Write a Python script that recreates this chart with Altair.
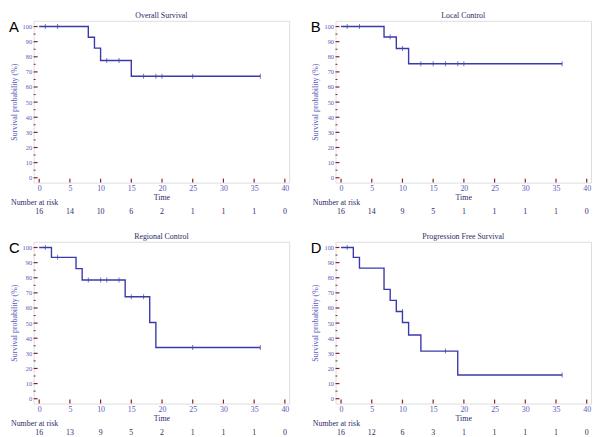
import altair as alt
import pandas as pd

# ---- data ----
x_ticks = [0, 5, 10, 15, 20, 25, 30, 35, 40]

a_title = "Overall Survival"
a_step_t = [0, 8, 9, 10, 15, 36]
a_step_s = [100, 92.9, 85.7, 77.5, 67.1, 67.1]
a_cens_t = [1, 3, 11, 13, 17, 19, 20, 25, 36]
a_cens_s = [100, 100, 77.5, 77.5, 67.1, 67.1, 67.1, 67.1, 67.1]
a_risk = [16, 14, 10, 6, 2, 1, 1, 1, 0]

b_title = "Local Control"
b_step_t = [0, 7, 9, 11, 36]
b_step_s = [100, 93.1, 85.5, 75.4, 75.4]
b_cens_t = [1, 3, 8, 10, 13, 15, 17, 19, 20, 36]
b_cens_s = [100, 100, 93.1, 85.5, 75.4, 75.4, 75.4, 75.4, 75.4, 75.4]
b_risk = [16, 14, 9, 5, 1, 1, 1, 1, 0]

c_title = "Regional Control"
c_step_t = [0, 2, 6, 7, 14, 18, 19, 36]
c_step_s = [100, 93.5, 86.0, 78.5, 67.4, 50.4, 33.9, 33.9]
c_cens_t = [1, 3, 8, 10, 11, 13, 15, 17, 25, 36]
c_cens_s = [100, 93.5, 78.5, 78.5, 78.5, 78.5, 67.4, 67.4, 33.9, 33.9]
c_risk = [16, 13, 9, 5, 2, 1, 1, 1, 0]

d_title = "Progression Free Survival"
d_step_t = [0, 2, 3, 7, 8, 9, 10, 11, 13, 19, 36]
d_step_s = [100, 93.5, 86.4, 72.3, 65.0, 57.7, 50.4, 42.1, 31.5, 15.7, 15.7]
d_cens_t = [1, 10, 17, 36]
d_cens_s = [100, 57.7, 31.5, 15.7]
d_risk = [16, 12, 6, 3, 1, 1, 1, 1, 0]

y_major = list(range(0, 101, 10))
y_minor = list(range(5, 100, 10))

# ---- style ----
W, H = 259, 164
BLUE = "#3a3aaa"
LBLUE = "#5a5ab8"
MAROON = "#8b1e1e"
NAVY = "#2a2a66"
FONT = "Liberation Serif"

xs = alt.Scale(domain=[-0.9, 40.7], nice=False, zero=False)
ys = alt.Scale(domain=[-3.2, 103.8], nice=False, zero=False)

xaxis = alt.Axis(values=x_ticks, title="Time", ticks=False, domain=False, grid=False,
                 labelColor=LBLUE, labelFont=FONT, labelFontSize=8, labelPadding=2,
                 labelOverlap=False, labelFlush=False, titleFont=FONT, titleFontSize=8,
                 titleFontWeight="normal", titleColor=NAVY, titlePadding=1)
yaxis = alt.Axis(values=y_major, title="Survival probability (%)", ticks=False, domain=False, grid=False,
                 labelColor=LBLUE, labelFont=FONT, labelFontSize=6.5, labelPadding=2,
                 labelOverlap=False, labelFlush=False, titleFont=FONT, titleFontSize=8,
                 titleFontWeight="normal", titleColor=LBLUE, titlePadding=4)


def X(f):
    return alt.X(f, scale=xs, axis=xaxis)


def Y(f):
    return alt.Y(f, scale=ys, axis=yaxis)


def panel(title, letter, st, ss, ct, cs, risk):
    steps = pd.DataFrame({"t": st, "s": ss})
    cens = pd.DataFrame({"t": ct, "s": cs})
    risk_df = pd.DataFrame({"t": x_ticks, "n": risk})
    ymaj = pd.DataFrame({"y": y_major})
    ymin = pd.DataFrame({"y": y_minor})
    xt = pd.DataFrame({"t": x_ticks})

    line = alt.Chart(steps).mark_line(interpolate="step-after", color=BLUE, strokeWidth=1.4).encode(
        x=X("t:Q"), y=Y("s:Q"))
    ticks_c = alt.Chart(cens).mark_tick(orient="vertical", color=BLUE, size=5, thickness=1).encode(
        x=X("t:Q"), y=Y("s:Q"))
    yt_major = alt.Chart(ymaj).mark_rule(color=MAROON, strokeWidth=1.2).encode(
        y=Y("y:Q"), x=alt.value(0), x2=alt.value(4))
    yt_minor = alt.Chart(ymin).mark_rule(color=MAROON, strokeWidth=1).encode(
        y=Y("y:Q"), x=alt.value(0), x2=alt.value(2))
    xt_major = alt.Chart(xt).mark_rule(color=MAROON, strokeWidth=1.2).encode(
        x=X("t:Q"), y=alt.value(H), y2=alt.value(H - 4))
    nums = alt.Chart(risk_df).mark_text(font=FONT, fontSize=8, color=NAVY).encode(
        x=X("t:Q"), y=alt.value(H + 30), text="n:Q")
    nar = alt.Chart(pd.DataFrame({"l": ["Number at risk"]})).mark_text(
        font=FONT, fontSize=8, color=NAVY, align="left").encode(
        x=alt.value(-23), y=alt.value(H + 21), text="l:N")
    let = alt.Chart(pd.DataFrame({"l": [letter]})).mark_text(
        font="Liberation Sans", fontSize=15, color="black", align="left", baseline="middle").encode(
        x=alt.value(-25), y=alt.value(6), text="l:N")
    ttl = alt.Chart(pd.DataFrame({"l": [title]})).mark_text(
        font=FONT, fontSize=8, color=NAVY, align="center", baseline="middle").encode(
        x=alt.value(W / 2), y=alt.value(-5), text="l:N")

    return alt.layer(yt_minor, yt_major, xt_major, line, ticks_c, nums, nar, let, ttl).properties(
        width=W, height=H)


pa = panel(a_title, "A", a_step_t, a_step_s, a_cens_t, a_cens_s, a_risk)
pb = panel(b_title, "B", b_step_t, b_step_s, b_cens_t, b_cens_s, b_risk)
pc = panel(c_title, "C", c_step_t, c_step_s, c_cens_t, c_cens_s, c_risk)
pd_ = panel(d_title, "D", d_step_t, d_step_s, d_cens_t, d_cens_s, d_risk)

chart = alt.vconcat(
    alt.hconcat(pa, pb, spacing=20),
    alt.hconcat(pc, pd_, spacing=20),
    spacing=15,
).properties(padding=0).configure_view(stroke=MAROON, strokeWidth=1.5).configure(background="white")

chart.save("out.html", embed_options={"renderer": "svg", "actions": False})
